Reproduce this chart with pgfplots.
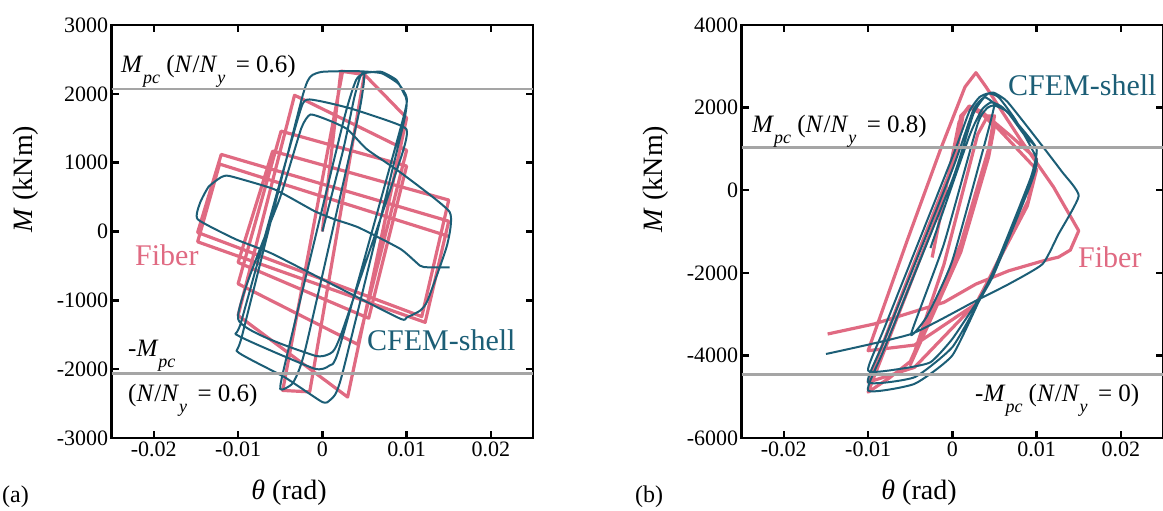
\documentclass[border=0pt]{standalone}
\usepackage{fontspec}
\setmainfont{Liberation Serif}
\usepackage{pgfplots}
\pgfplotsset{compat=1.18}
\definecolor{fib}{RGB}{224,106,130}
\definecolor{cfem}{RGB}{28,94,118}
\definecolor{mpc}{RGB}{165,165,165}
\newcommand{\sub}[1]{\raisebox{-0.42em}{\fontsize{18}{18}\selectfont\textit{#1}}}
\pgfplotsset{
  hyst/.style={scale only axis, width=421.3pt, height=413pt,
    xmin=-0.025, xmax=0.025,
    scaled x ticks=false, scaled y ticks=false,
    xtick={-0.02,-0.01,0,0.01,0.02}, xticklabels={-0.02,-0.01,0,0.01,0.02},
    tick align=inside, major tick length=7pt,
    axis line style={line width=2.6pt},
    tick style={black, line width=2.4pt},
    ticklabel style={font=\fontsize{22}{22}\selectfont},
    anchor=south west, clip=true},
  fibline/.style={fib, line width=3.2pt, line join=round, no marks},
  cfemline/.style={cfem, line width=2.0pt, line join=round, no marks, smooth, tension=0.3},
  mpcline/.style={mpc, line width=2.8pt, no marks},
}
\begin{document}
\begin{tikzpicture}
\path[use as bounding box] (0pt,0pt) rectangle (1163pt,511pt);
% ---------------- (a) ----------------
\begin{axis}[hyst, at={(111.7pt,73pt)}, ymin=-3000, ymax=3000,
  ytick={-3000,-2000,-1000,0,1000,2000,3000},
  yticklabels={-3000,-2000,-1000,0,1000,2000,3000}]
\addplot[fibline] coordinates {
(0,0) (0.0022,2330) (0.0050,2290) (-0.0015,-2330) (-0.0047,-2309)
(0.0024,2325) (0.0050,2280) (0.0100,1650) (0.0030,-2405) (-0.0100,-1220)
(-0.0033,1980) (0.0100,1180) (0.0042,-1640) (-0.0100,-760)
(-0.0049,1458) (0.0100,951) (0.0055,-1260) (-0.0100,-450)
(-0.0059,1168) (0.0150,457) (0.0118,-1236) (-0.0148,-14)
(-0.0120,1120) (0.0150,150) (0.0122,-1320) (-0.0148,-150)
(-0.0122,980) (0.0150,-70)
};
\addplot[cfemline] coordinates {
(0,0) (0.0025,1200) (0.0038,1950) (0.0045,2250) (0.0050,2300)
(0.0043,1700) (-0.0020,-1700) (-0.0035,-2200) (-0.0050,-2290)
(-0.0042,-1800) (0.0025,1600) (0.0040,2200) (0.0050,2300)
(0.0070,2320) (0.0088,2200) (0.0097,2000) (0.0100,1900)
(0.0095,1500) (0.0023,-2100) (0.0010,-2440) (0.0000,-2478)
(-0.0045,-2115) (-0.0100,-1753)
(-0.0095,-1500) (-0.0025,1900) (-0.0014,2250) (0.0000,2320)
(0.0040,2330) (0.0070,2300) (0.0090,2150) (0.0100,1950)
(0.0095,1600) (0.0020,-1700) (0.0008,-1950) (-0.0010,-1990) (-0.0100,-1512)
(-0.0096,-1300) (-0.0030,1600) (-0.0018,1917) (0.0030,1800)
(0.0080,1600) (0.0100,1480)
(0.0094,1100) (0.0025,-1400) (0.0012,-1750) (-0.0010,-1800) (-0.0100,-1270)
(-0.0050,500) (-0.0025,1500) (-0.0014,1700) (0.0010,1603)
(0.0030,1483) (0.0053,1193) (0.0093,855) (0.0151,285)
(0.0148,-200) (0.0125,-1000) (0.0116,-1150) (0.0100,-1250) (0.0093,-1270)
(0.0020,-820) (-0.0060,-320) (-0.0103,-112) (-0.0148,178)
(-0.0145,420) (-0.0135,650) (-0.0120,790) (-0.0110,806)
(-0.0057,613) (-0.0010,300) (0.0014,179) (0.0043,58)
(0.0093,-256) (0.0116,-497) (0.0125,-520) (0.0151,-522)
};
\addplot[mpcline] coordinates {(-0.025,2070) (0.025,2070)};
\addplot[mpcline] coordinates {(-0.025,-2060) (0.025,-2060)};
\end{axis}
% ---------------- (b) ----------------
\begin{axis}[hyst, at={(741.7pt,73pt)}, ymin=-6000, ymax=4000,
  ytick={-6000,-4000,-2000,0,2000,4000},
  yticklabels={-6000,-4000,-2000,0,2000,4000}]
\addplot[fibline] coordinates {
(-0.0024,-1630) (0.0008,1650) (0.0018,1980) (0.0030,1950) (0.0050,1550)
(0.0043,800) (0.0010,-1500) (-0.0025,-3100) (-0.0050,-4230)
(-0.0010,-1800) (0.0030,1350) (0.0042,1800) (0.0050,1800)
(0.0043,1000) (0.0010,-1300) (-0.0025,-3000) (-0.0050,-4150)
(-0.0075,-4550) (-0.0100,-4890)
(-0.0060,-2800) (-0.0020,-700) (0.0005,900) (0.0013,1850) (0.0020,2040)
(0.0035,1900) (0.0070,1300) (0.0100,750)
(0.0090,-250) (0.0030,-2700) (-0.0045,-4290) (-0.0100,-4650)
(-0.0050,-2000) (0.0000,600) (0.0010,1800) (0.0020,2000) (0.0040,1800)
(0.0070,1150) (0.0100,500)
(0.0089,-380) (0.0028,-2750) (-0.0045,-3750) (-0.0100,-3886)
(-0.0053,-1185) (-0.0014,991) (0.0015,2500) (0.0028,2845) (0.0040,2500)
(0.0080,1250) (0.0120,80) (0.0150,-983)
(0.0140,-1450) (0.0126,-1620) (0.0106,-1720) (0.0067,-1951)
(0.0028,-2273) (-0.0010,-2716) (-0.0093,-3240) (-0.0148,-3482)
};
\addplot[cfemline] coordinates {
(-0.0026,-1400) (0.0020,1300) (0.0035,1950) (0.0045,2120) (0.0050,2080)
(0.0042,1400) (0.0000,-1700) (-0.0030,-3050) (-0.0049,-3480)
(-0.0010,-1300) (0.0030,1600) (0.0042,2000) (0.0050,2050)
(0.0065,1900) (0.0085,1350) (0.0100,990)
(0.0093,300) (0.0050,-1900) (0.0034,-2550) (0.0000,-3600)
(-0.0026,-4166) (-0.0060,-4320) (-0.0100,-4369)
(-0.0080,-3300) (0.0000,800) (0.0020,1900) (0.0032,2250) (0.0043,2345)
(0.0055,2250) (0.0075,1700) (0.0100,750)
(0.0092,100) (0.0050,-2000) (0.0034,-2600) (0.0000,-3800)
(-0.0045,-4530) (-0.0100,-4651)
(-0.0080,-3600) (0.0000,500) (0.0025,1950) (0.0038,2250) (0.0049,2120)
(0.0060,2000) (0.0080,1550) (0.0100,1000)
(0.0093,300) (0.0050,-1950) (0.0034,-2580) (0.0000,-4000)
(-0.0045,-4690) (-0.0100,-4853)
(-0.0080,-3800) (0.0000,250) (0.0025,1850) (0.0040,2300) (0.0049,2362)
(0.0065,2150) (0.0100,1250) (0.0130,450) (0.0150,-137)
(0.0126,-1064) (0.0107,-1789) (0.0067,-2273) (0.0028,-2676)
(-0.0049,-3482) (-0.0150,-3966)
};
\addplot[mpcline] coordinates {(-0.025,1030) (0.025,1030)};
\addplot[mpcline] coordinates {(-0.025,-4470) (0.025,-4470)};
\end{axis}
% ---------------- texts ----------------
\begin{scope}[every node/.style={inner sep=0pt}]
\node[anchor=base west, font=\fontsize{25}{25}\selectfont] at (121pt,438pt)
  {\textit{M}\sub{pc} (\textit{N}/\textit{N}\sub{y}\, = 0.6)};
\node[anchor=base west, font=\fontsize{25}{25}\selectfont] at (128pt,154pt)
  {-\textit{M}\sub{pc}};
\node[anchor=base west, font=\fontsize{25}{25}\selectfont] at (128pt,109pt)
  {(\textit{N}/\textit{N}\sub{y}\, = 0.6)};
\node[anchor=base west, font=\fontsize{30}{30}\selectfont, text=fib] at (135pt,245pt) {Fiber};
\node[anchor=base west, font=\fontsize{30}{30}\selectfont, text=cfem] at (367pt,160pt) {CFEM-shell};
\node[anchor=base west, font=\fontsize{25}{25}\selectfont] at (752pt,378pt)
  {\textit{M}\sub{pc} (\textit{N}/\textit{N}\sub{y}\, = 0.8)};
\node[anchor=base west, font=\fontsize{25}{25}\selectfont] at (975pt,109pt)
  {-\textit{M}\sub{pc} (\textit{N}/\textit{N}\sub{y}\, = 0)};
\node[anchor=base west, font=\fontsize{30}{30}\selectfont, text=cfem] at (1008pt,415pt) {CFEM-shell};
\node[anchor=base west, font=\fontsize{30}{30}\selectfont, text=fib] at (1078pt,243pt) {Fiber};
\node[rotate=90, font=\fontsize{28}{28}\selectfont] at (26pt,332pt) {\textit{M} (kNm)};
\node[rotate=90, font=\fontsize{28}{28}\selectfont] at (656pt,332pt) {\textit{M} (kNm)};
\node[anchor=base, font=\fontsize{28}{28}\selectfont] at (289pt,11pt) {\textit{θ} (rad)};
\node[anchor=base, font=\fontsize{28}{28}\selectfont] at (919pt,11pt) {\textit{θ} (rad)};
\node[anchor=base west, font=\fontsize{24}{24}\selectfont] at (2pt,8pt) {(a)};
\node[anchor=base west, font=\fontsize{24}{24}\selectfont] at (635pt,8pt) {(b)};
\end{scope}
\end{tikzpicture}
\end{document}
